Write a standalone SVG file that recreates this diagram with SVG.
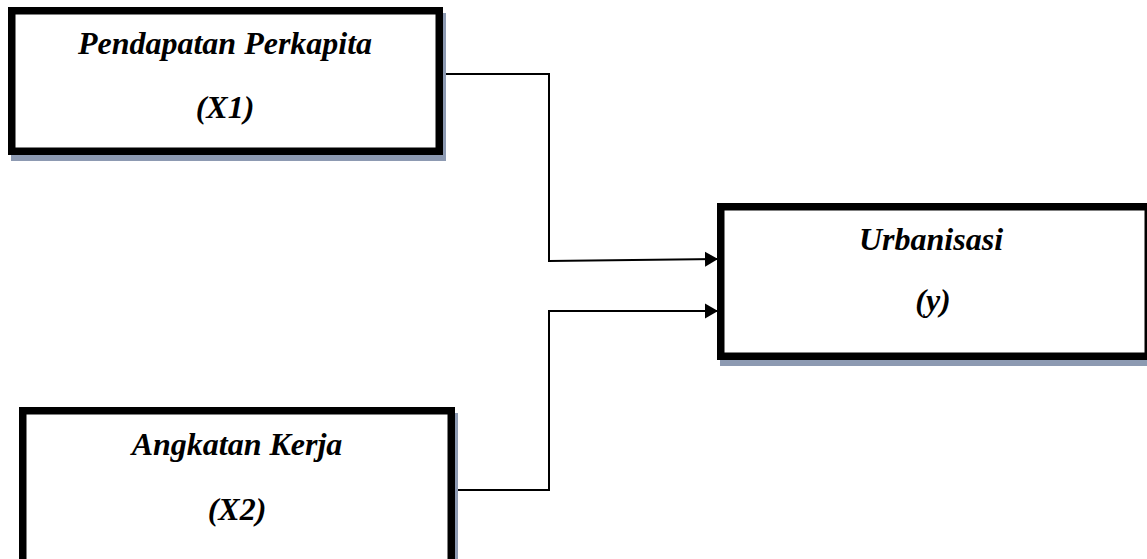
<svg xmlns="http://www.w3.org/2000/svg" width="1147" height="559" viewBox="0 0 1147 559">
  <style>
    .shadow { fill: #8d9ab2; }
    .box { fill: #ffffff; stroke: #000000; stroke-width: 7.5; }
    .label { font-family: "Liberation Serif", "Times New Roman", serif; font-size: 32px; font-weight: bold; font-style: italic; fill: #000000; text-anchor: middle; }
    .link { fill: none; stroke: #000000; stroke-width: 2; }
  </style>
  <defs>
    <marker id="arrow" markerUnits="userSpaceOnUse" markerWidth="14" markerHeight="16" refX="13" refY="8" orient="auto">
      <path d="M0,0.5 L13,8 L0,15.5 Z" fill="#000000"/>
    </marker>
  </defs>

  <rect width="1147" height="559" fill="#ffffff"/>

  <!-- connectors -->
  <g id="connectors">
    <path class="link" d="M443,74 H549 V261 L718,259" marker-end="url(#arrow)"/>
    <path class="link" d="M455,490 H549 V311 H718" marker-end="url(#arrow)"/>
  </g>

  <!-- X1 -->
  <g id="node-x1">
    <rect class="shadow" x="11" y="13" width="435" height="148"/>
    <rect class="box" x="11.75" y="10.75" width="427.5" height="140.5"/>
    <text class="label" x="225" y="54">Pendapatan Perkapita</text>
    <text class="label" x="225" y="118">(X1)</text>
  </g>

  <!-- Y -->
  <g id="node-y">
    <rect class="shadow" x="720" y="209" width="435" height="157"/>
    <rect class="box" x="720.75" y="206.75" width="427.5" height="149.5"/>
    <text class="label" x="931" y="250">Urbanisasi</text>
    <text class="label" x="933" y="311">(y)</text>
  </g>

  <!-- X2 -->
  <g id="node-x2">
    <rect class="shadow" x="22" y="413" width="436" height="160"/>
    <rect class="box" x="22.75" y="410.75" width="428.5" height="160"/>
    <text class="label" x="237" y="455">Angkatan Kerja</text>
    <text class="label" x="237" y="520">(X2)</text>
  </g>
</svg>
